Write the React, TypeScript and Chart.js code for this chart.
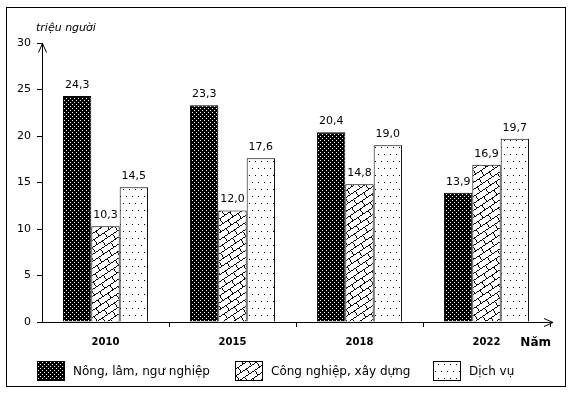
import React, { useEffect, useRef } from 'react';
import { Chart, registerables } from 'chart.js';

Chart.register(...registerables);

const categories = ['2010', '2015', '2018', '2022'];
const agriculture = [24.3, 23.3, 20.4, 13.9];
const industry = [10.3, 12.0, 14.8, 16.9];
const services = [14.5, 17.6, 19.0, 19.7];
const seriesNames = ['Nông, lâm, ngư nghiệp', 'Công nghiệp, xây dựng', 'Dịch vụ'];
const yMin = 0;
const yMax = 30;
const yStep = 5;
const yTitle = 'triệu người';
const xTitle = 'Năm';

const FONT = "'DejaVu Sans', Tahoma, Verdana, sans-serif";

function makePattern(w: number, h: number, bg: string, fg: string, pixels: [number, number][]) {
  const c = document.createElement('canvas');
  c.width = w;
  c.height = h;
  const g = c.getContext('2d')!;
  g.fillStyle = bg;
  g.fillRect(0, 0, w, h);
  g.fillStyle = fg;
  for (const [x, y] of pixels) g.fillRect(x, y, 1, 1);
  return g.createPattern(c, 'repeat')!;
}

function blackDots() {
  return makePattern(4, 4, '#000', '#fff', [[0, 0], [2, 2]]);
}

function brickHatch() {
  const W = 600;
  const H = 420;
  const c = document.createElement('canvas');
  c.width = W;
  c.height = H;
  const g = c.getContext('2d')!;
  const img = g.createImageData(W, H);
  const mod = (a: number, m: number) => ((a % m) + m) % m;
  const SP = 21;
  const TP = 44;
  for (let y = 0; y < H; y++) {
    for (let x = 0; x < W; x++) {
      const s = 2 * x + 3 * y;
      const t = 3 * x - 2 * y;
      const b = Math.floor(s / SP);
      const onLine = mod(s, SP) < 3;
      const onCross = mod(t + b * (TP / 2), TP) < 3;
      const k = (y * W + x) * 4;
      const v = onLine || onCross ? 0 : 255;
      img.data[k] = v;
      img.data[k + 1] = v;
      img.data[k + 2] = v;
      img.data[k + 3] = 255;
    }
  }
  g.putImageData(img, 0, 0);
  return g.createPattern(c, 'repeat')!;
}

function sparseDots() {
  return makePattern(6, 14, '#fff', '#000', [[0, 0], [3, 7]]);
}

const fmt = (v: number) => v.toFixed(1).replace('.', ',');

export default function App() {
  const ref = useRef<HTMLCanvasElement | null>(null);
  useEffect(() => {
    if (!ref.current) return;
    const fills = [blackDots(), brickHatch(), sparseDots()];
    const seriesData = [agriculture, industry, services];

    const decor = {
      id: 'decor',
      beforeDraw(chart: any) {
        const ctx = chart.ctx;
        ctx.save();
        ctx.fillStyle = '#fff';
        ctx.fillRect(0, 0, chart.width, chart.height);
        ctx.restore();
      },
      afterDraw(chart: any) {
        const ctx = chart.ctx;
        const area = chart.chartArea;
        ctx.save();
        ctx.strokeStyle = '#000';
        ctx.lineWidth = 1;
        ctx.strokeRect(6.5, 7.5, 559, 379);

        const ax = Math.round(area.left) + 0.5;
        const ay = Math.round(area.bottom) + 0.5;
        const top = Math.round(area.top) + 0.5;
        ctx.beginPath();
        ctx.moveTo(ax - 4, top + 9);
        ctx.lineTo(ax, top);
        ctx.lineTo(ax + 4, top + 9);
        ctx.stroke();
        const xEnd = area.right + 3;
        ctx.beginPath();
        ctx.moveTo(area.right - 3, ay);
        ctx.lineTo(xEnd, ay);
        ctx.stroke();
        ctx.beginPath();
        ctx.moveTo(xEnd - 9, ay - 4);
        ctx.lineTo(xEnd, ay);
        ctx.lineTo(xEnd - 9, ay + 4);
        ctx.stroke();

        ctx.fillStyle = '#000';
        ctx.font = `italic 11px ${FONT}`;
        ctx.textAlign = 'left';
        ctx.textBaseline = 'alphabetic';
        ctx.fillText(yTitle, 36, 31);
        ctx.font = `bold 12px ${FONT}`;
        ctx.textAlign = 'right';
        ctx.textBaseline = 'middle';
        ctx.fillText(xTitle, 551, 343);

        ctx.font = `11px ${FONT}`;
        ctx.textAlign = 'center';
        ctx.textBaseline = 'alphabetic';
        chart.data.datasets.forEach((ds: any, di: number) => {
          const meta = chart.getDatasetMeta(di);
          meta.data.forEach((bar: any, i: number) => {
            ctx.fillText(fmt(ds.data[i]), bar.x, bar.y - 8);
          });
        });

        const boxes = [37, 235, 433];
        const by = 361;
        const bw = 28;
        const bh = 20;
        ctx.textAlign = 'left';
        ctx.textBaseline = 'middle';
        ctx.font = `12px ${FONT}`;
        seriesNames.forEach((name, i) => {
          ctx.fillStyle = fills[i];
          ctx.fillRect(boxes[i], by, bw, bh);
          ctx.strokeStyle = '#000';
          ctx.strokeRect(boxes[i] + 0.5, by + 0.5, bw - 1, bh - 1);
          ctx.fillStyle = '#000';
          ctx.fillText(name, boxes[i] + bw + 8, by + bh / 2 + 0.5);
        });
        ctx.restore();
      },
    };

    const chart = new Chart(ref.current, {
      type: 'bar',
      data: {
        labels: categories,
        datasets: seriesNames.map((name, i) => ({
          label: name,
          data: seriesData[i],
          backgroundColor: fills[i],
          borderColor: '#000',
          borderWidth: 1,
          categoryPercentage: 0.67,
          barPercentage: 1,
        })),
      },
      options: {
        responsive: true,
        maintainAspectRatio: false,
        animation: false,
        layout: { padding: { top: 43, right: 23, left: 0, bottom: 0 } },
        plugins: {
          legend: { display: false },
          tooltip: { enabled: false },
          title: { display: false },
        },
        scales: {
          x: {
            offset: true,
            grid: {
              offset: true,
              drawOnChartArea: false,
              drawTicks: true,
              tickLength: 5,
              color: (c: any) => (c.index === 0 || c.index === categories.length ? 'rgba(0,0,0,0)' : '#000'),
            },
            border: { display: true, color: '#000', width: 1 },
            ticks: {
              color: '#000',
              font: { family: FONT, size: 10, weight: 'bold' },
              padding: 9,
              maxRotation: 0,
            },
            afterFit: (s: any) => {
              s.height = 77;
            },
          },
          y: {
            min: yMin,
            max: yMax,
            ticks: {
              stepSize: yStep,
              color: '#000',
              font: { family: FONT, size: 11 },
              padding: 6,
            },
            grid: { drawOnChartArea: false, drawTicks: true, tickLength: 5, color: '#000' },
            border: { display: true, color: '#000', width: 1 },
            afterFit: (s: any) => {
              s.width = 42;
            },
          },
        },
      } as any,
      plugins: [decor],
    });
    return () => chart.destroy();
  }, []);

  return (
    <div style={{ position: 'absolute', left: 0, top: 0, width: 573, height: 399, background: '#fff' }}>
      <canvas ref={ref} />
    </div>
  );
}
